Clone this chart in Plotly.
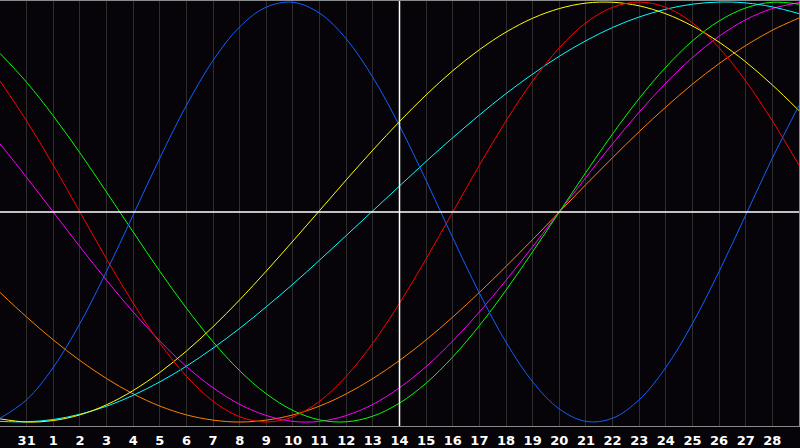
import plotly.graph_objects as go

# eixo dos dias (31 de janeiro até 1 de março)
dias = [0, 1, 2, 3, 4, 5, 6, 7, 8, 9, 10, 11, 12, 13, 14, 15,
        16, 17, 18, 19, 20, 21, 22, 23, 24, 25, 26, 27, 28, 29, 30]
posicoes_ticks = [1, 2, 3, 4, 5, 6, 7, 8, 9, 10, 11, 12, 13, 14, 15,
                  16, 17, 18, 19, 20, 21, 22, 23, 24, 25, 26, 27, 28, 29]
rotulos_ticks = ["31", "1", "2", "3", "4", "5", "6", "7", "8", "9", "10",
                 "11", "12", "13", "14", "15", "16", "17", "18", "19", "20",
                 "21", "22", "23", "24", "25", "26", "27", "28"]
hoje = 15

# valores, um por dia
fisico = [-0.982, -0.894, -0.740, -0.531, -0.283, -0.014, 0.257, 0.508, 0.722, 0.882, 0.976,
          0.999, 0.947, 0.825, 0.641, 0.411, 0.150, -0.123, -0.386, -0.620, -0.809,
          -0.938, -0.997, -0.982, -0.894, -0.740, -0.531, -0.283, -0.014, 0.257, 0.508]
emocional = [0.624, 0.434, 0.223, 0.0, -0.223, -0.434, -0.624, -0.782, -0.901, -0.975, -1.0,
             -0.975, -0.901, -0.782, -0.624, -0.434, -0.223, 0.0, 0.223, 0.434, 0.624,
             0.782, 0.901, 0.975, 1.0, 0.975, 0.901, 0.782, 0.624, 0.434, 0.223]
intelectual = [0.756, 0.618, 0.458, 0.282, 0.095, -0.095, -0.282, -0.458, -0.618, -0.756, -0.866,
               -0.945, -0.990, -0.999, -0.972, -0.910, -0.815, -0.690, -0.541, -0.372, -0.189,
               0.0, 0.189, 0.372, 0.541, 0.690, 0.815, 0.910, 0.972, 0.999, 0.990]
intuitivo = [0.325, 0.165, 0.0, -0.165, -0.325, -0.476, -0.614, -0.736, -0.837, -0.916, -0.969,
             -0.997, -0.997, -0.969, -0.916, -0.837, -0.736, -0.614, -0.476, -0.325, -0.165,
             0.0, 0.165, 0.325, 0.476, 0.614, 0.736, 0.837, 0.916, 0.969, 0.997]
estetico = [-0.985, -1.0, -0.993, -0.966, -0.918, -0.850, -0.764, -0.662, -0.546, -0.418, -0.281,
            -0.138, 0.007, 0.153, 0.295, 0.431, 0.558, 0.673, 0.773, 0.857, 0.923,
            0.969, 0.995, 0.999, 0.982, 0.944, 0.886, 0.809, 0.715, 0.605, 0.483]
consciencia = [-0.383, -0.5, -0.609, -0.707, -0.793, -0.866, -0.924, -0.966, -0.991, -1.0, -0.991,
               -0.966, -0.924, -0.866, -0.793, -0.707, -0.609, -0.5, -0.383, -0.259, -0.131,
               0.0, 0.131, 0.259, 0.383, 0.5, 0.609, 0.707, 0.793, 0.866, 0.924]
espiritual = [-0.997, -0.999, -0.988, -0.963, -0.925, -0.873, -0.809, -0.734, -0.648, -0.554, -0.451,
              -0.343, -0.229, -0.112, 0.006, 0.124, 0.241, 0.354, 0.462, 0.564, 0.657,
              0.742, 0.816, 0.879, 0.929, 0.966, 0.990, 1.0, 0.996, 0.977, 0.945]

series = [
    (consciencia, "#ff8000"),
    (intuitivo, "#ff00ff"),
    (intelectual, "#00ff00"),
    (espiritual, "#00ffff"),
    (estetico, "#ffff00"),
    (emocional, "#ff0000"),
    (fisico, "#1060ff"),
]

fig = go.Figure()
for valores, cor in series:
    fig.add_trace(go.Scatter(x=dias, y=valores, mode='lines',
                             line=dict(color=cor, width=1, shape='spline', smoothing=1.0),
                             hoverinfo='skip'))

# linhas brancas do dia atual e do zero
fig.add_shape(type='line', xref='x', yref='paper', x0=hoje, x1=hoje, y0=0, y1=1,
              line=dict(color='white', width=1.5))
fig.add_shape(type='line', xref='paper', yref='y', x0=0, x1=1, y0=0, y1=0,
              line=dict(color='white', width=1.5))

fig.update_layout(
    width=800, height=448,
    margin=dict(l=0, r=1, t=1, b=20),
    paper_bgcolor='#060408',
    plot_bgcolor='#060408',
    showlegend=False,
    xaxis=dict(range=[0, 30], tickmode='array', tickvals=posicoes_ticks, ticktext=rotulos_ticks,
               showgrid=True, gridcolor='#2e2e2e', gridwidth=1, zeroline=False,
               showline=True, mirror=True, linecolor='#8a8a8a', linewidth=1,
               ticks='', ticklen=0, ticklabelstandoff=2,
               tickfont=dict(family='DejaVu Sans', size=13, color='white', weight='bold')),
    yaxis=dict(range=[-1.019, 1.005], showgrid=False, zeroline=False, showticklabels=False,
               showline=True, mirror=True, linecolor='#8a8a8a', linewidth=1),
)

# tira a margem padrão da página para o gráfico ocupar a janela inteira
fig.write_html("out.html", config={'displayModeBar': False},
               post_script="document.body.style.margin='0';document.body.style.overflow='hidden';"
                           "document.body.style.background='#060408';")
